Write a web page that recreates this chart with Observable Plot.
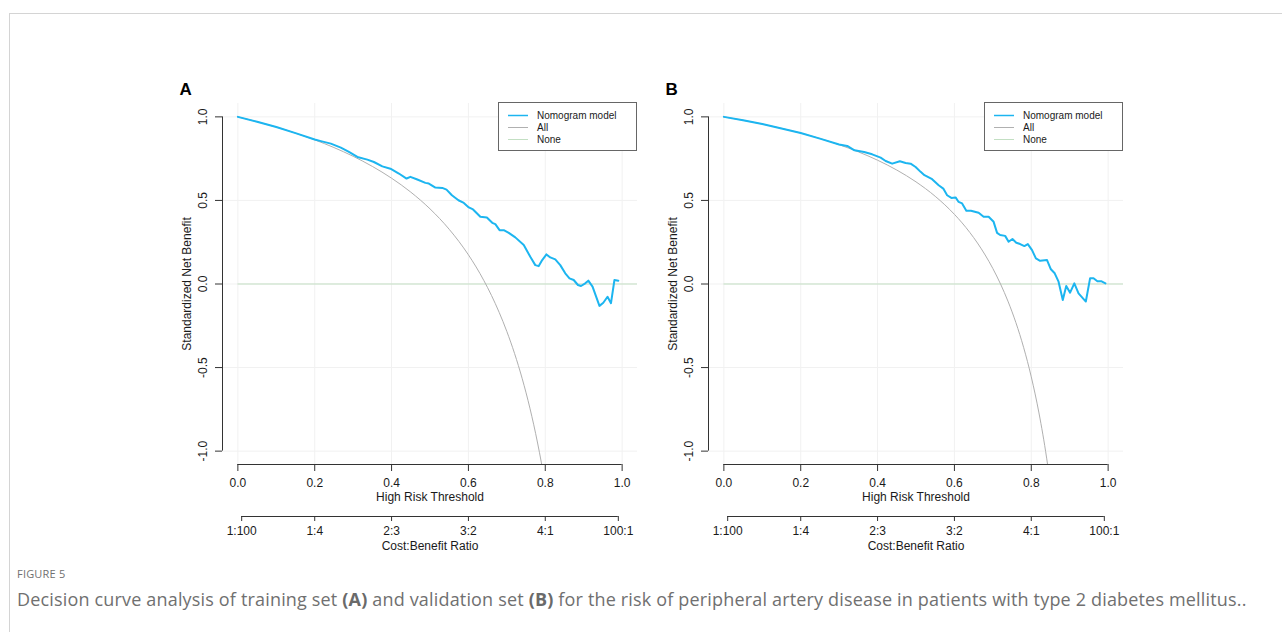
<!DOCTYPE html>
<html><head><meta charset="utf-8">
<script src="https://cdn.jsdelivr.net/npm/d3@7"></script>
<script src="https://cdn.jsdelivr.net/npm/@observablehq/plot@0.6"></script>
<style>
body{margin:0;background:#fff;width:1282px;height:632px;overflow:hidden;position:relative;font-family:"Liberation Sans",Arial,sans-serif}
#frame{position:absolute;left:9px;top:13px;width:1400px;height:700px;border-left:1px solid #d4d4d4;border-top:1px solid #d4d4d4}
.panel{position:absolute;top:62px;width:486px;height:500px}
.legend{position:absolute;left:347px;top:40px;width:139px;height:49px;box-sizing:border-box;border:1px solid #666;background:#fff}
.legend svg{position:absolute;left:0;top:0}
#figlab{position:absolute;left:17px;top:566px;font-family:"Open Sans",sans-serif;font-size:11px;color:#707070;letter-spacing:0.2px}
#caption{position:absolute;left:17px;top:587px;font-family:"Open Sans",sans-serif;font-size:18px;line-height:24px;color:#707070;white-space:nowrap;letter-spacing:0.17px}
#caption b{color:#6a6a6a}
</style></head><body>
<div id="frame"></div>
<div id="pA" class="panel" style="left:151px"></div>
<div id="pB" class="panel" style="left:637px"></div>
<div id="figlab">FIGURE 5</div>
<div id="caption">Decision curve analysis of training set <b>(A)</b> and validation set <b>(B)</b> for the risk of peripheral artery disease in patients with type 2 diabetes mellitus..</div>
<script>
// ---- data ----
const xTicks = [0, 0.2, 0.4, 0.6, 0.8, 1.0];
const yTicks = [-1, -0.5, 0, 0.5, 1];
const costT = [0.0099, 0.2, 0.4, 0.6, 0.8, 0.9901];
const costLabels = ["1:100", "1:4", "2:3", "3:2", "4:1", "100:1"];
const seriesNames = ["Nomogram model", "All", "None"];
const seriesColors = ["#1cb5f0", "#b0b0b0", "#c3dfc3"];
const xLabel = "High Risk Threshold";
const yLabel = "Standardized Net Benefit";
const costTitle = "Cost:Benefit Ratio";

const nomA_t = [0,0.05,0.10,0.15,0.20,0.216,0.242,0.268,0.289,0.311,0.337,0.354,0.376,0.397,0.419,0.439,0.449,0.467,0.488,0.497,0.514,0.532,0.543,0.557,0.574,0.588,0.601,0.612,0.631,0.648,0.662,0.670,0.681,0.692,0.705,0.722,0.744,0.761,0.774,0.783,0.792,0.803,0.813,0.826,0.839,0.852,0.863,0.874,0.885,0.893,0.904,0.912,0.923,0.941,0.951,0.962,0.971,0.980,0.990];
const nomA_v = [1.000,0.971,0.939,0.903,0.865,0.855,0.840,0.816,0.790,0.760,0.744,0.730,0.704,0.690,0.661,0.631,0.641,0.625,0.605,0.601,0.577,0.575,0.565,0.531,0.501,0.485,0.458,0.446,0.402,0.398,0.366,0.358,0.322,0.322,0.306,0.279,0.233,0.163,0.113,0.107,0.143,0.177,0.159,0.147,0.113,0.064,0.034,0.024,-0.006,-0.012,0.004,0.020,-0.016,-0.131,-0.112,-0.076,-0.115,0.024,0.020];

const nomB_t = [0,0.05,0.10,0.15,0.20,0.25,0.30,0.321,0.340,0.365,0.386,0.408,0.421,0.438,0.458,0.473,0.486,0.499,0.512,0.522,0.542,0.559,0.571,0.581,0.592,0.603,0.611,0.620,0.631,0.643,0.663,0.676,0.689,0.702,0.711,0.719,0.732,0.741,0.751,0.761,0.771,0.782,0.791,0.802,0.812,0.823,0.841,0.851,0.861,0.871,0.882,0.891,0.901,0.912,0.923,0.942,0.953,0.962,0.972,0.983,0.993];
const nomB_v = [1.000,0.980,0.957,0.931,0.903,0.870,0.835,0.826,0.800,0.790,0.776,0.756,0.736,0.720,0.734,0.724,0.720,0.700,0.671,0.651,0.627,0.591,0.571,0.531,0.515,0.518,0.491,0.482,0.438,0.438,0.426,0.402,0.402,0.372,0.306,0.293,0.288,0.253,0.269,0.247,0.239,0.227,0.239,0.203,0.153,0.139,0.143,0.088,0.064,0.014,-0.096,-0.012,-0.052,0.004,-0.056,-0.105,0.034,0.034,0.016,0.016,0.004];

const allT = [0,0.05,0.10,0.15,0.20,0.25,0.30,0.35,0.40,0.45,0.50,0.55,0.60,0.62,0.64,0.66,0.68,0.70,0.72,0.74,0.76,0.78,0.80,0.82,0.84,0.86];
const allA = [1,0.971,0.9388,0.9029,0.8624,0.8165,0.7641,0.7036,0.6331,0.5497,0.4496,0.3273,0.1744,0.1020,0.0215,-0.0684,-0.1696,-0.2843,-0.4153,-0.5665,-0.7429,-0.9514,-1.2016,-1.5074,-1.8896,-2.381];
const allB = [1,0.9795,0.9568,0.9314,0.9028,0.8704,0.8333,0.7906,0.7407,0.6818,0.6111,0.5247,0.4167,0.3655,0.3086,0.2451,0.1736,0.0926,0,-0.1069,-0.2315,-0.3788,-0.5556,-0.7716,-1.0417,-1.3889];

const noneT = [0, 1.04];
const noneV = [0, 0];

// ---- layout ----
const xDom = [-0.04, 1.04], yDom = [-1.08, 1.08];
const W = 486, H = 500, mL = 71, mR = 0, mT = 41, mB = 98;
const innerW = W - mL - mR, innerH = H - mT - mB;
const xAt = px => xDom[0] + px * (xDom[1] - xDom[0]) / innerW;
const yAt = px => yDom[0] - px * (yDom[1] - yDom[0]) / innerH;
const fmt = d => d.toFixed(1);
const ink = "#333";
const FS = 12;
const T = {fontSize: FS, fill: "#1a1a1a", textAnchor: "middle", lineAnchor: "middle"};

function panel(letter, nT, nV, aV) {
  const nom = nT.map((t, i) => ({t, v: nV[i]}));
  const all = allT.map((t, i) => ({t, v: aV[i]}));
  const none = noneT.map((t, i) => ({t, v: noneV[i]}));
  return Plot.plot({
    width: W, height: H, marginLeft: mL, marginRight: mR, marginTop: mT, marginBottom: mB,
    x: {domain: xDom, axis: null},
    y: {domain: yDom, axis: null},
    style: {fontFamily: "'Liberation Sans', Arial, sans-serif", fontSize: "12px", color: "#1a1a1a", background: "transparent", overflow: "visible"},
    marks: [
      Plot.ruleX(xTicks, {stroke: "#f1f1f1"}),
      Plot.ruleY(yTicks, {stroke: "#f1f1f1"}),
      Plot.line(none, {x: "t", y: "v", stroke: seriesColors[2], strokeWidth: 1, clip: true}),
      Plot.line(all, {x: "t", y: "v", stroke: seriesColors[1], strokeWidth: 1, curve: "monotone-x", clip: true}),
      Plot.line(nom, {x: "t", y: "v", stroke: seriesColors[0], strokeWidth: 2, clip: true}),
      // y axis
      Plot.ruleX([xDom[0]], {y1: yTicks[0], y2: yTicks[yTicks.length - 1], stroke: ink}),
      Plot.ruleY(yTicks, {x1: xDom[0], x2: xAt(-7), stroke: ink}),
      Plot.text(yTicks, {...T, y: d => d, x: xAt(-19), rotate: -90, text: fmt}),
      Plot.text([yLabel], {...T, frameAnchor: "left", dx: -35, rotate: -90, text: d => d}),
      // x axis
      Plot.ruleY([yDom[0]], {x1: xTicks[0], x2: xTicks[xTicks.length - 1], stroke: ink}),
      Plot.ruleX(xTicks, {y1: yDom[0], y2: yAt(7), stroke: ink}),
      Plot.text(xTicks, {...T, x: d => d, y: yAt(19), text: fmt}),
      Plot.text([xLabel], {...T, frameAnchor: "bottom", dy: 33, text: d => d}),
      // cost:benefit axis
      Plot.ruleY([yAt(52)], {x1: costT[0], x2: costT[costT.length - 1], stroke: ink}),
      Plot.ruleX(costT, {y1: yAt(52), y2: yAt(57), stroke: ink}),
      Plot.text(costT, {...T, x: d => d, y: yAt(67), text: (d, i) => costLabels[i]}),
      Plot.text([costTitle], {...T, frameAnchor: "bottom", dy: 82, text: d => d}),
      // panel letter
      Plot.text([letter], {frameAnchor: "top-left", dx: -43, dy: -9, textAnchor: "start", lineAnchor: "bottom", fontWeight: "bold", fontSize: 17, fill: "#000", text: d => d})
    ]
  });
}

function legend() {
  const div = document.createElement("div");
  div.className = "legend";
  const svg = d3.create("svg").attr("width", 139).attr("height", 49)
    .style("font-family", "'Liberation Sans', Arial, sans-serif").style("font-size", "10px");
  seriesNames.forEach((name, i) => {
    const y = 12.5 + i * 12;
    svg.append("line").attr("x1", 9).attr("x2", 29).attr("y1", y).attr("y2", y)
      .attr("stroke", seriesColors[i]).attr("stroke-width", i === 0 ? 1.5 : 1);
    svg.append("text").attr("x", 38).attr("y", y).attr("dy", "0.35em").attr("fill", "#1a1a1a").text(name);
  });
  div.appendChild(svg.node());
  return div;
}

const pA = document.getElementById("pA");
pA.appendChild(panel("A", nomA_t, nomA_v, allA));
pA.appendChild(legend());
const pB = document.getElementById("pB");
pB.appendChild(panel("B", nomB_t, nomB_v, allB));
pB.appendChild(legend());
</script>
</body></html>
